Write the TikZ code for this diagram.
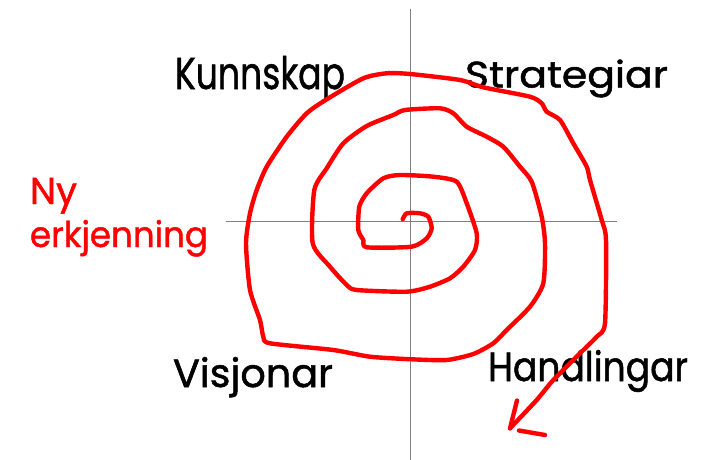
\documentclass[tikz,border=0pt]{standalone}
\usepackage{fontspec}
\setmainfont{Poppins}[FakeBold=1.3]
\usepackage{graphicx}
\definecolor{spiralred}{RGB}{255,0,0}
\definecolor{axisgray}{RGB}{128,128,128}
\begin{document}
\begin{tikzpicture}[x=1pt,y=-1pt,
  axis/.style={draw=axisgray,line width=1.4pt},
  spiral/.style={draw=spiralred,line width=4.4pt,line cap=round,line join=round},
  lab/.style={anchor=base west,inner sep=0pt,outer sep=0pt,text=black},
  redlab/.style={anchor=base west,inner sep=0pt,outer sep=0pt,text=spiralred}]
\useasboundingbox (0,0) rectangle (718,460);
\fill[white] (0,0) rectangle (718,460);
% axes
\coordinate (vt) at (410.5,9);
\coordinate (vb) at (410.5,460);
\coordinate (hl) at (226,221.5);
\coordinate (hr) at (617,221.5);
\draw[axis] (vt) -- (vb);
\draw[axis] (hl) -- (hr);
% labels
\node[lab] (kunn) at (175,89) {\resizebox{170pt}{33pt}{Kunnskap}};
\node[lab] (strat) at (465,87.5) {\resizebox{203pt}{28pt}{Strategiar}};
\node[lab] (vis) at (173,387) {\resizebox{160pt}{30pt}{Visjonar}};
\node[lab] (hand) at (488,381) {\resizebox{200pt}{31pt}{Handlingar}};
\node[redlab] (ny) at (30,204) {\resizebox{47pt}{26pt}{Ny}};
\node[redlab] (erk) at (30,247) {\resizebox{178pt}{27pt}{erkjenning}};
% spiral
\draw[spiral] plot[smooth,tension=0.4] coordinates {
(402.7,219.3) (406.7,213.3) (420,213.3) (428.3,216.7) (431.7,228.3) (426.7,238.3)
(411.7,246.7) (366.7,247.3) (363.3,240) (358.3,230) (359.3,206.7) (366.7,193.3)
(383.3,178.3) (400,175) (433.3,176.7) (456.7,181.7) (466.7,203.3) (476.7,233.3)
(475,250) (463.3,266.7) (450,278.3) (430,286.7) (406.7,291.7) (356.7,290)
(346.7,285) (330,266.7) (312.7,243.3) (314.3,190) (326.7,168.3) (343.3,143.3)
(366.7,126) (393.3,115) (405,110) (440,108.3) (453.3,113.3) (466.7,126.7)
(486.7,136.7) (503.3,146.7) (520,166.7) (531.7,181.7) (541.7,216.7) (545,243.3)
(543.3,283.3) (530,306.7) (506.7,330) (493.3,343.3) (473.3,354) (446.7,360)
(411.7,359.3) (370,356.7) (333.3,350) (270,343.3) (263.3,336.7) (260,320)
(250,290) (246,243.3) (250,213.3) (256.7,190) (266.7,166.7) (286.7,136.7)
(306.7,113.3) (326.7,99.3) (363.3,78.3) (386.7,73.3) (410,74) (460,80)
(483.3,87.3) (530,96.7) (541.7,103.3) (546.7,111.7) (560,120) (573.3,143.3)
(586.7,166.7) (590,180) (601.7,220) (606,240) (605,323.3) (596.7,336.7)
(580,353.3) (553.3,380) (536.7,400) (510,428.3)};
\coordinate (tip) at (510,428.3);
\coordinate (barbA) at (517,400.5);
\coordinate (barbB1) at (519,430.5);
\coordinate (barbB2) at (545,435);
\draw[spiral] (tip) -- (barbA);
\draw[spiral] (barbB1) -- (barbB2);
\end{tikzpicture}
\end{document}
